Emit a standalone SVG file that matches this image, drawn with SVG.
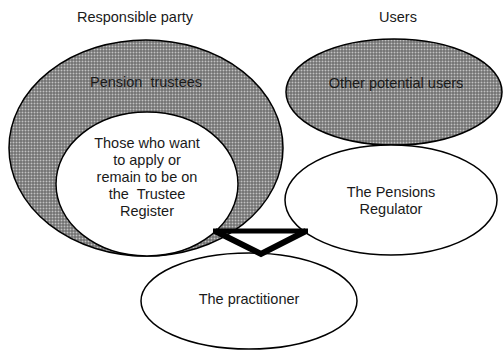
<svg xmlns="http://www.w3.org/2000/svg" width="503" height="350" viewBox="0 0 503 350">
  <defs>
    <!-- fine dotted grey fill used for the shaded ellipses -->
    <pattern id="dots" width="3" height="3" patternUnits="userSpaceOnUse">
      <rect width="3" height="3" fill="#5e5e5e"/>
      <rect x="0.5" y="0.5" width="2" height="2" fill="#c2c2c2"/>
    </pattern>
  </defs>
  <style>
    .shade { fill: url(#dots); stroke: #000; stroke-width: 1.5; }
    .plain { fill: #fff; stroke: #000; stroke-width: 1.5; }
    text { font-family: "Liberation Sans", Arial, sans-serif; font-size: 14.5px; fill: #1a1a1a; text-anchor: middle; }
    .link { fill: none; stroke: #000; stroke-linecap: butt; stroke-linejoin: miter; }
  </style>

  <rect width="503" height="350" fill="#fff"/>

  <!-- column headings -->
  <text x="135" y="22">Responsible party</text>
  <text x="398" y="22">Users</text>

  <g id="pension-trustees">
    <ellipse class="shade" cx="146" cy="148" rx="137" ry="108"/>
    <text x="146" y="87" xml:space="preserve">Pension  trustees</text>
  </g>

  <g id="trustee-register">
    <ellipse class="plain" cx="147" cy="184" rx="91" ry="72"/>
    <text x="147" y="148">Those who want</text>
    <text x="147" y="165">to apply or</text>
    <text x="147" y="182">remain to be on</text>
    <text x="147" y="199" xml:space="preserve">the  Trustee</text>
    <text x="147" y="216">Register</text>
  </g>

  <g id="other-users">
    <ellipse class="shade" cx="394" cy="92" rx="108" ry="53"/>
    <text x="396" y="88">Other potential users</text>
  </g>

  <g id="pensions-regulator">
    <ellipse class="plain" cx="391" cy="200" rx="106" ry="55"/>
    <text x="391" y="197">The Pensions</text>
    <text x="391" y="214">Regulator</text>
  </g>

  <g id="practitioner">
    <ellipse class="plain" cx="249" cy="301" rx="108" ry="48"/>
    <text x="249" y="304">The practitioner</text>
  </g>

  <!-- heavy connector joining the two upper nodes to the practitioner -->
  <g id="connectors">
    <line class="link" x1="213" y1="231" x2="308" y2="231" stroke-width="5"/>
    <polyline class="link" points="215,231 261,254 306,231" stroke-width="6"/>
  </g>
</svg>
